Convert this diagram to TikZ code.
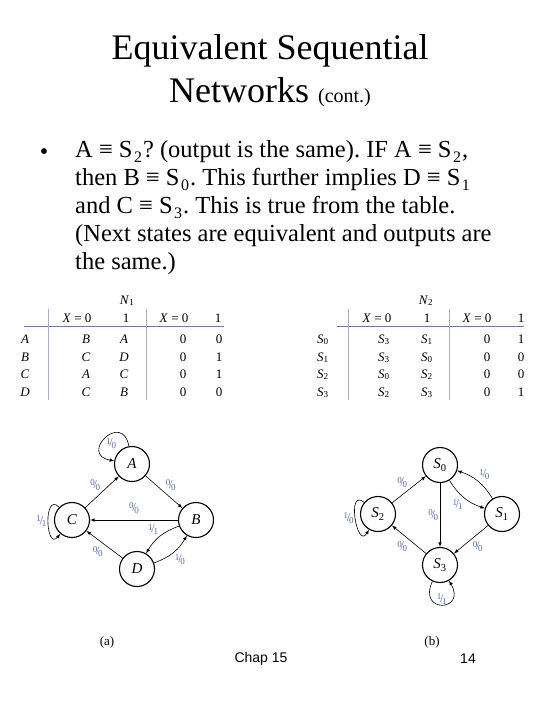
\documentclass[tikz,border=0pt]{standalone}
\usepackage{fontspec}
\setmainfont{Liberation Serif}
\setsansfont{Liberation Sans}
\usetikzlibrary{positioning}
\definecolor{lblue}{RGB}{85,110,165}
\definecolor{rulecol}{RGB}{105,125,155}
% slanted input/output label
\newcommand{\io}[2]{\raisebox{.4ex}{\fontsize{9}{9}\selectfont#1}\kern-.1em/\kern-.1em\raisebox{-.35ex}{\fontsize{9}{9}\selectfont#2}}
% subscript of the body text
\newcommand{\lsub}[1]{\kern1.5pt\raisebox{-.2em}{\fontsize{16}{16}\selectfont#1}\kern1pt}

\begin{document}
\frenchspacing
\begin{tikzpicture}[x=1pt, y=1pt, >=latex,
    state/.style={draw, circle, line width=1.1pt, minimum size=35pt, inner sep=0pt, font=\itshape\fontsize{15}{15}\selectfont},
    lbl/.style={text=lblue, font=\fontsize{12}{12}\selectfont, inner sep=1.5pt},
    cell/.style={anchor=base, font=\fontsize{13}{13}\selectfont},
    trans/.style={->, line width=.6pt}]
        \useasboundingbox (0,0) rectangle (540,-720);

        % title and text
        \node[align=center, anchor=north, inner sep=0pt, font=\fontsize{36}{43}\selectfont] (title) at (270,-34) {Equivalent Sequential\\Networks {\fontsize{20}{20}\selectfont (cont.)}};
        \node[anchor=base, font=\fontsize{24}{24}\selectfont] (bullet) at (44,-159) {•};
        \node[align=left, anchor=north west, inner sep=0pt, font=\fontsize{24.5}{28}\selectfont] (body) at (75,-140) {A ≡ S\lsub{2}? (output is the same). IF A ≡ S\lsub{2},\\then B ≡ S\lsub{0}. This further implies D ≡ S\lsub{1}\\and C ≡ S\lsub{3}. This is true from the table.\\(Next states are equivalent and outputs are\\the same.)};

        % table N1
        \node[cell] (n1) at (127,-304) {\textit{N}\textsubscript{1}};
        \node[cell] (h1a) at (77,-322) {\textit{X} = 0};
        \node[cell] (h1b) at (126,-322) {1};
        \node[cell] (h1c) at (174,-322) {\textit{X} = 0};
        \node[cell] (h1d) at (218,-322) {1};
        \draw[rulecol, line width=1pt] (24,-326) -- (224,-326);
        \draw[rulecol!60, line width=.7pt] (48,-309) -- (48,-400) (146,-309) -- (146,-400);
        \foreach \s/\p/\q/\u/\v/\y in {A/B/A/0/0/343, B/C/D/0/1/361, C/A/C/0/1/378, D/C/B/0/0/396} {
            \node[cell] (ra\s) at (25,-\y) {\textit{\s}};
            \node[cell] (pa\s) at (86,-\y) {\textit{\p}};
            \node[cell] (qa\s) at (124,-\y) {\textit{\q}};
            \node[cell] (ua\s) at (183,-\y) {\u};
            \node[cell] (va\s) at (219,-\y) {\v};
        }

        % table N2
        \node[cell] (n2) at (426,-304) {\textit{N}\textsubscript{2}};
        \node[cell] (h2a) at (377,-322) {\textit{X} = 0};
        \node[cell] (h2b) at (427,-322) {1};
        \node[cell] (h2c) at (477,-322) {\textit{X} = 0};
        \node[cell] (h2d) at (521,-322) {1};
        \draw[rulecol, line width=1pt] (337,-326) -- (524,-326);
        \draw[rulecol!60, line width=.7pt] (348,-309) -- (348,-400) (449,-309) -- (449,-400);
        \foreach \s/\p/\q/\u/\v/\y in {0/3/1/0/1/343, 1/3/0/0/0/361, 2/0/2/0/0/378, 3/2/3/0/1/396} {
            \node[cell] (rb\s) at (323,-\y) {\textit{S}\textsubscript{\s}};
            \node[cell] (pb\s) at (384,-\y) {\textit{S}\textsubscript{\p}};
            \node[cell] (qb\s) at (427,-\y) {\textit{S}\textsubscript{\q}};
            \node[cell] (ub\s) at (487,-\y) {\u};
            \node[cell] (vb\s) at (521,-\y) {\v};
        }

        % state graph (a)
        \node[state] (A) at (132,-464) {A};
        \node[state] (C) at (72,-520) {C};
        \node[state] (B) at (196,-520) {B};
        \node[state] (D) at (137,-569) {D};
        \draw[trans] (A) to[out=100, in=170, looseness=4.5] node[lbl, pos=.5, below right=-2pt] {\io10} (A);
        \draw[trans] (C) to[out=135, in=230, looseness=2.2] node[lbl, pos=.5, left] {\io11} (C);
        \draw[trans] (C) -- node[lbl, above left] {\io00} (A);
        \draw[trans] (A) -- node[lbl, above right] {\io00} (B);
        \draw[trans] (B) -- node[lbl, above=5pt] {\io00} (C);
        \draw[trans] (B) to[bend right=20] node[lbl, above left] {\io11} (D);
        \draw[trans] (D) to[bend right=20] node[lbl, below right] {\io10} (B);
        \draw[trans] (D) -- node[lbl, below left] {\io00} (C);

        % state graph (b)
        \node[state] (S0) at (440,-465) {S\textup{\textsubscript{0}}};
        \node[state] (S2) at (378,-514) {S\textup{\textsubscript{2}}};
        \node[state] (S1) at (502,-514) {S\textup{\textsubscript{1}}};
        \node[state] (S3) at (440,-565) {S\textup{\textsubscript{3}}};
        \draw[trans] (S2) to[out=140, in=240, looseness=2.2] node[lbl, pos=.5, left] {\io10} (S2);
        \draw[trans] (S3) to[out=245, in=300, looseness=5.5] node[lbl, pos=.5, above=-1pt] {\io11} (S3);
        \draw[trans] (S2) -- node[lbl, above left] {\io00} (S0);
        \draw[trans] (S0) to[bend right=20] node[lbl, below left] {\io11} (S1);
        \draw[trans] (S1) to[bend right=20] node[lbl, above right] {\io10} (S0);
        \draw[trans] (S0) -- node[lbl, left] {\io00} (S3);
        \draw[trans] (S1) -- node[lbl, below right] {\io00} (S3);
        \draw[trans] (S3) -- node[lbl, below left] {\io00} (S2);

        % captions
        \node[font=\fontsize{13}{13}\selectfont] (capa) at (107,-642) {(a)};
        \node[font=\fontsize{13}{13}\selectfont] (capb) at (432,-642) {(b)};
        \node[font=\sffamily\fontsize{14}{14}\selectfont] (chap) at (261,-659) {Chap 15};
        \node[font=\sffamily\fontsize{14}{14}\selectfont] (page) at (468,-659) {14};
    \end{tikzpicture}
\end{document}
